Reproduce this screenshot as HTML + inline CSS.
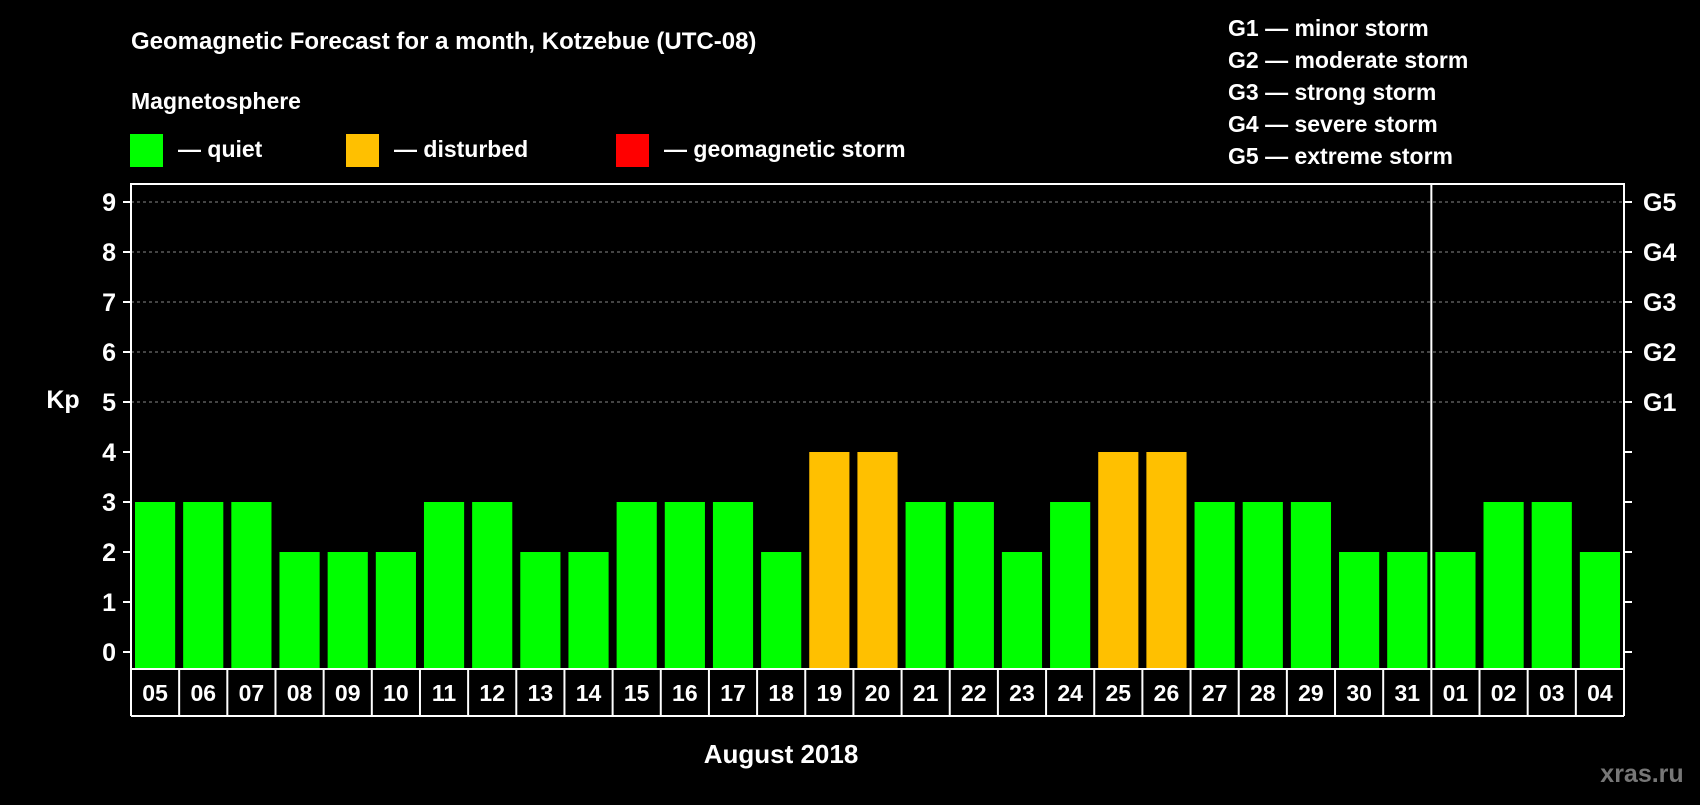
<!DOCTYPE html>
<html><head><meta charset="utf-8"><style>
body{margin:0;background:#000;width:1700px;height:800px;overflow:hidden;font-family:"Liberation Sans",sans-serif;font-weight:bold;color:#fff}
</style></head><body>
<svg width="1700" height="800" font-family="Liberation Sans, sans-serif" font-weight="bold">
<text x="131" y="49" font-size="24" fill="#fff">Geomagnetic Forecast for a month, Kotzebue (UTC-08)</text>
<text x="131" y="109" font-size="23" fill="#fff">Magnetosphere</text>
<rect x="130" y="134" width="33" height="33" fill="#00ff00"/>
<text x="178" y="157" font-size="23" fill="#fff">— quiet</text>
<rect x="346" y="134" width="33" height="33" fill="#ffc000"/>
<text x="394" y="157" font-size="23" fill="#fff">— disturbed</text>
<rect x="616" y="134" width="33" height="33" fill="#ff0000"/>
<text x="664" y="157" font-size="23" fill="#fff">— geomagnetic storm</text>
<g font-size="23" fill="#fff">
<text x="1228" y="36">G1 — minor storm</text>
<text x="1228" y="68">G2 — moderate storm</text>
<text x="1228" y="100">G3 — strong storm</text>
<text x="1228" y="132">G4 — severe storm</text>
<text x="1228" y="164">G5 — extreme storm</text>
</g>
<text x="63" y="408" font-size="25" fill="#fff" text-anchor="middle">Kp</text>
<text x="781" y="763" font-size="26" fill="#fff" text-anchor="middle">August 2018</text>
<text x="1642" y="782" font-size="25" fill="#777" text-anchor="middle">xras.ru</text>
<g id="plot"></g>
</svg>
<script>
const days=["05","06","07","08","09","10","11","12","13","14","15","16","17","18","19","20","21","22","23","24","25","26","27","28","29","30","31","01","02","03","04"];
const kp=[3,3,3,2,2,2,3,3,2,2,3,3,3,2,4,4,3,3,2,3,4,4,3,3,3,2,2,2,3,3,2];
const yTicks=[0,1,2,3,4,5,6,7,8,9];
const gLabels=["G1","G2","G3","G4","G5"];
const NS="http://www.w3.org/2000/svg";
const g=document.getElementById('plot');
const L=131,R=1624,T=184,B=669,Y0=652,UNIT=50;
const sw=(R-L)/days.length;
const y=v=>Y0-v*UNIT;
function mk(t,a,p){const e=document.createElementNS(NS,t);for(const k in a)e.setAttribute(k,a[k]);(p||g).appendChild(e);return e;}
// grid
for(const v of yTicks){
  if(v>=5){const l=mk('line',{x1:L,x2:R,y1:y(v),y2:y(v),stroke:'#888','stroke-dasharray':'3,3','stroke-width':1});
  
  }
  const t=mk('text',{x:116,y:y(v)+9,'font-size':25,fill:'#fff','text-anchor':'end'});t.textContent=v;
  
  
  mk('line',{x1:L-8,x2:L,y1:y(v),y2:y(v),stroke:'#fff','stroke-width':2});
  mk('line',{x1:R,x2:R+8,y1:y(v),y2:y(v),stroke:'#fff','stroke-width':2});
}
gLabels.forEach((s,i)=>{const t=mk('text',{x:1643,y:y(5+i)+9,'font-size':25,fill:'#fff'});t.textContent=s;
  
  });
// bars
days.forEach((d,i)=>{
  const v=kp[i];const c=v>=5?'#ff0000':v>=4?'#ffc000':'#00ff00';
  const b=mk('rect',{x:L+i*sw+4,y:y(v),width:sw-8,height:B-1-y(v),fill:c});
  
  
  const t=mk('text',{x:L+(i+0.5)*sw,y:701,'font-size':23,fill:'#fff','text-anchor':'middle'});t.textContent=d;
  
  
  mk('line',{x1:L+i*sw,x2:L+i*sw,y1:B,y2:716,stroke:'#fff','stroke-width':2});
});
mk('line',{x1:R,x2:R,y1:B,y2:716,stroke:'#fff','stroke-width':2});
mk('line',{x1:L,x2:R,y1:716,y2:716,stroke:'#fff','stroke-width':2});
mk('rect',{x:L,y:T,width:R-L,height:B-T,fill:'none',stroke:'#fff','stroke-width':2});
const sep=days.indexOf("01");
const s=mk('line',{x1:L+sep*sw,x2:L+sep*sw,y1:T,y2:B,stroke:'#fff','stroke-width':2});


</script>
</body></html>
